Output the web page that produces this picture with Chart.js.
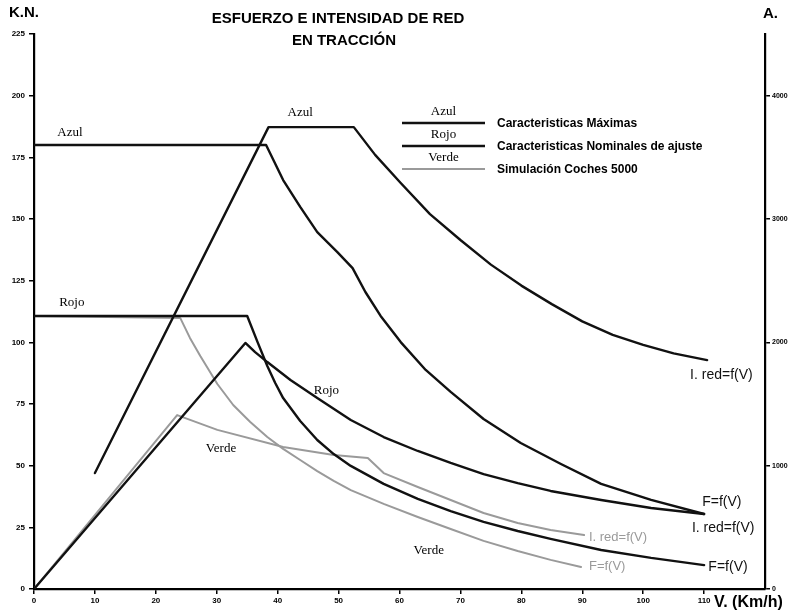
<!DOCTYPE html>
<html>
<head>
<meta charset="utf-8">
<script src="https://cdn.jsdelivr.net/npm/chart.js@4/dist/chart.umd.min.js"></script>
<style>
  html, body { margin: 0; padding: 0; background: #fff; }
  #wrap { position: relative; width: 792px; height: 613px; }
  canvas { display: block; }
</style>
</head>
<body>
<div id="wrap"><canvas id="c" width="792" height="613"></canvas></div>
<script>
// ---- Data ----
// X: speed V (km/h). Left axis: force F (kN). Right axis: line current I (A).
const xTicks = [0, 10, 20, 30, 40, 50, 60, 70, 80, 90, 100, 110];
const leftTicks = [0, 25, 50, 75, 100, 125, 150, 175, 200, 225];
const rightTicks = [0, 1000, 2000, 3000, 4000];

// Azul – Caracteristicas Máximas
const azulF_V  = [0, 38.1, 40.9, 43.7, 46.5, 49.8, 52.3, 54.4, 56.9, 60.2, 64.3, 68.4, 73.8, 79.9, 86.5, 93.1, 101.3, 110];
const azulF_kN = [180, 180, 165.8, 154.9, 144.7, 136.6, 130.1, 120.4, 110.7, 100.1, 88.8, 79.9, 68.9, 59.2, 50.7, 42.6, 36.1, 30.4];
const azulI_V  = [10, 38.5, 52.5, 56, 60.2, 65, 70, 75, 80, 85, 90, 95, 100, 105, 110.5];
const azulI_A  = [940, 3745, 3745, 3520, 3292, 3040, 2830, 2630, 2460, 2310, 2170, 2060, 1980, 1910, 1856];

// Rojo – Caracteristicas Nominales de ajuste
const rojoF_V  = [0, 35, 36.7, 38.3, 39.6, 40.9, 43.7, 46.5, 49.2, 52, 57.4, 63, 68.4, 73.8, 79.4, 84.8, 93.1, 101.3, 110];
const rojoF_kN = [110.7, 110.7, 100.1, 90.4, 83.5, 77.4, 68.1, 60.4, 54.7, 49.9, 42.6, 36.5, 31.6, 27.2, 23.5, 20.3, 15.8, 12.6, 9.7];
const rojoI_V  = [0, 34.7, 36.3, 38.3, 42.1, 46.5, 52, 57.4, 63, 68.4, 73.8, 79.4, 84.8, 93.1, 101.3, 110];
const rojoI_A  = [0, 1995, 1921, 1840, 1695, 1549, 1370, 1232, 1119, 1022, 932, 859, 795, 722, 657, 608];

// Verde – Simulación Coches 5000
const verdeF_V  = [0, 24, 25.6, 27.3, 30.1, 32.7, 35.5, 38.3, 40.9, 43.7, 46.5, 49.2, 52, 57.4, 63, 68.4, 73.8, 79.4, 84.8, 89.8];
const verdeF_kN = [110.7, 109.9, 101.8, 94.5, 83.1, 74.6, 67.7, 61.6, 56.8, 52.3, 47.8, 43.8, 40.1, 34.5, 29.2, 24.3, 19.5, 15.4, 11.8, 8.9];
const verdeI_V  = [0, 23.5, 30.1, 40.9, 49.2, 54.8, 57.4, 63, 68.4, 73.8, 79.4, 84.8, 90.3];
const verdeI_A  = [0, 1410, 1290, 1151, 1086, 1062, 940, 827, 722, 616, 535, 478, 438];

const seriesNames = ['Azul', 'Rojo', 'Verde'];
const legendTexts = ['Caracteristicas Máximas', 'Caracteristicas Nominales de ajuste', 'Simulación Coches 5000'];

const BLACK = '#111111';
const GREY = '#9a9a9a';

function pts(xs, ys) { return xs.map((x, i) => ({ x: x, y: ys[i] })); }

const datasets = [
  { label: 'Azul F', data: pts(azulF_V, azulF_kN), yAxisID: 'y', borderColor: BLACK, borderWidth: 2.4, order: 1 },
  { label: 'Azul I', data: pts(azulI_V, azulI_A), yAxisID: 'y1', borderColor: BLACK, borderWidth: 2.4, order: 1 },
  { label: 'Rojo F', data: pts(rojoF_V, rojoF_kN), yAxisID: 'y', borderColor: BLACK, borderWidth: 2.4, order: 1 },
  { label: 'Rojo I', data: pts(rojoI_V, rojoI_A), yAxisID: 'y1', borderColor: BLACK, borderWidth: 2.4, order: 1 },
  { label: 'Verde F', data: pts(verdeF_V, verdeF_kN), yAxisID: 'y', borderColor: GREY, borderWidth: 2, order: 2 },
  { label: 'Verde I', data: pts(verdeI_V, verdeI_A), yAxisID: 'y1', borderColor: GREY, borderWidth: 2, order: 2 }
].map(d => Object.assign(d, { pointRadius: 0, tension: 0, fill: false, borderJoinStyle: 'round', borderCapStyle: 'round' }));

// Annotation texts (data coordinates on x / left axis)
const serifLabels = [
  { t: 'Azul', x: 5.9, y: 184.9 }, { t: 'Azul', x: 43.7, y: 193 },
  { t: 'Rojo', x: 6.2, y: 116.3 }, { t: 'Rojo', x: 48, y: 80.3 },
  { t: 'Verde', x: 30.7, y: 56.8 }, { t: 'Verde', x: 64.8, y: 15.4 }
];
const curveLabels = [
  { t: 'I. red=f(V)', x: 107.7, y: 86.8, c: BLACK },
  { t: 'F=f(V)', x: 109.7, y: 35.3, c: BLACK },
  { t: 'I. red=f(V)', x: 108.0, y: 24.7, c: BLACK },
  { t: 'F=f(V)', x: 110.7, y: 8.9, c: BLACK },
  { t: 'I. red=f(V)', x: 91.1, y: 21.1, c: GREY },
  { t: 'F=f(V)', x: 91.1, y: 9.3, c: GREY }
];

const SANS = '"Liberation Sans", Arial, sans-serif';
const SERIF = '"Liberation Serif", "Times New Roman", serif';

const textPlugin = {
  id: 'texts',
  afterDraw(chart) {
    const ctx = chart.ctx;
    const xs = chart.scales.x, ys = chart.scales.y;
    ctx.save();
    ctx.textBaseline = 'middle';
    // Title
    ctx.fillStyle = '#000';
    ctx.textAlign = 'center';
    ctx.font = 'bold 15px ' + SANS;
    ctx.fillText('ESFUERZO E INTENSIDAD DE RED', 338, 19);
    ctx.fillText('EN TRACCIÓN', 344, 41);
    // Axis titles
    ctx.textAlign = 'left';
    ctx.font = 'bold 15px ' + SANS;
    ctx.fillText('K.N.', 9, 13);
    ctx.fillText('A.', 763, 14);
    ctx.font = 'bold 16px ' + SANS;
    ctx.fillText('V. (Km/h)', 714, 603);
    // Serif series labels
    ctx.textAlign = 'center';
    ctx.font = '13px ' + SERIF;
    serifLabels.forEach(l => ctx.fillText(l.t, xs.getPixelForValue(l.x), ys.getPixelForValue(l.y)));
    // Curve labels
    ctx.textAlign = 'left';
    curveLabels.forEach(l => {
      ctx.fillStyle = l.c;
      ctx.font = (l.c === GREY ? '13px ' : '14px ') + SANS;
      ctx.fillText(l.t, xs.getPixelForValue(l.x), ys.getPixelForValue(l.y));
    });
    // Legend
    const lx0 = 402, lx1 = 485, ly = [123, 146, 169];
    const cols = [BLACK, BLACK, GREY];
    for (let i = 0; i < 3; i++) {
      ctx.strokeStyle = cols[i];
      ctx.lineWidth = i < 2 ? 2.4 : 2;
      ctx.beginPath(); ctx.moveTo(lx0, ly[i]); ctx.lineTo(lx1, ly[i]); ctx.stroke();
      ctx.fillStyle = '#000';
      ctx.textAlign = 'center';
      ctx.font = '13px ' + SERIF;
      ctx.fillText(seriesNames[i], (lx0 + lx1) / 2, ly[i] - 11);
      ctx.textAlign = 'left';
      ctx.font = 'bold 12px ' + SANS;
      ctx.fillText(legendTexts[i], 497, ly[i] + 1);
    }
    ctx.restore();
  }
};

const axisCommon = {
  grid: { drawOnChartArea: false, drawTicks: true, tickLength: 5, color: '#000', lineWidth: 1.5 },
  border: { display: true, color: '#000', width: 2.2 }
};
const plain = v => String(v);

new Chart(document.getElementById('c'), {
  type: 'line',
  data: { datasets: datasets },
  options: {
    responsive: false,
    animation: false,
    events: [],
    layout: { padding: { top: 34, left: 0, right: 0, bottom: 0 } },
    plugins: { legend: { display: false }, tooltip: { enabled: false }, title: { display: false } },
    scales: {
      x: Object.assign({}, axisCommon, {
        type: 'linear', min: 0, max: 120,
        afterBuildTicks: s => { s.ticks = xTicks.map(v => ({ value: v })); },
        ticks: { color: '#000', font: { family: SANS, size: 8, weight: 'bold' }, padding: 2, maxRotation: 0, autoSkip: false, callback: plain },
        afterFit: s => { s.height = 24; }
      }),
      y: Object.assign({}, axisCommon, {
        position: 'left', min: 0, max: 225,
        afterBuildTicks: s => { s.ticks = leftTicks.map(v => ({ value: v })); },
        ticks: { color: '#000', font: { family: SANS, size: 8, weight: 'bold' }, padding: 4, autoSkip: false, callback: plain },
        afterFit: s => { s.width = 34; }
      }),
      y1: Object.assign({}, axisCommon, {
        position: 'right', min: 0, max: 4500,
        afterBuildTicks: s => { s.ticks = rightTicks.map(v => ({ value: v })); },
        ticks: { color: '#000', font: { family: SANS, size: 7, weight: 'bold' }, padding: 2, autoSkip: false, callback: plain },
        afterFit: s => { s.width = 27; }
      })
    }
  },
  plugins: [textPlugin]
});
</script>
</body>
</html>
